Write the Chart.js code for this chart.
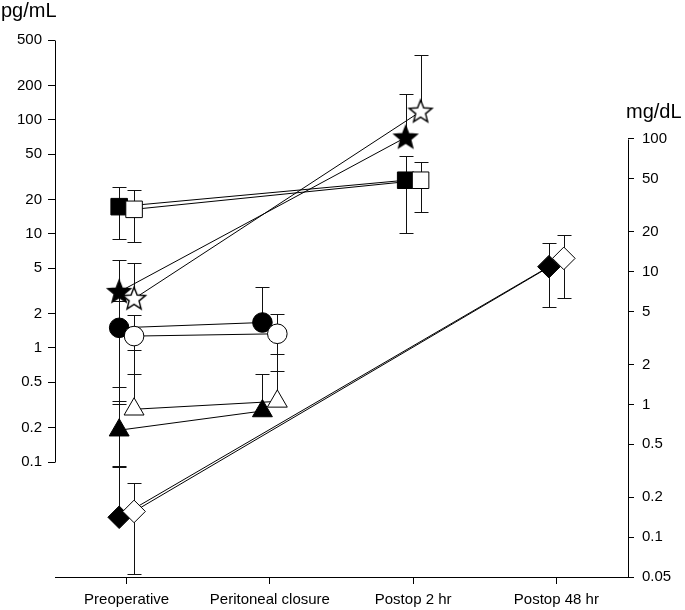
<!DOCTYPE html>
<html>
<head>
<meta charset="utf-8">
<script src="https://cdn.jsdelivr.net/npm/chart.js@4/dist/chart.umd.min.js"></script>
<style>
  body { margin: 0; background: #fff; }
  #wrap { width: 685px; height: 610px; }
</style>
</head>
<body>
<div id="wrap"><canvas id="chart" width="685" height="610"></canvas></div>
<script>
const categories = ['Preoperative', 'Peritoneal closure', 'Postop 2 hr', 'Postop 48 hr'];
const leftTicks = [0.1, 0.2, 0.5, 1, 2, 5, 10, 20, 50, 100, 200, 500];
const rightTicks = [0.05, 0.1, 0.2, 0.5, 1, 2, 5, 10, 20, 50, 100];

// pg/mL (left axis) -- null where the group has no value
const squareFilled   = [17.3, null, 29.5, null];
const squareFilledHi = [25.6, null, 48.4, null];
const squareFilledLo = [9.1, null, 10.2, null];
const squareOpen     = [16.4, null, 29.5, null];
const squareOpenHi   = [24.4, null, 42.9, null];
const squareOpenLo   = [8.4, null, 15.6, null];

const starFilled   = [3.1, null, 70, null];
const starFilledHi = [5.9, null, 169, null];
const starFilledLo = [0.32, null, null, null];
const starOpen     = [2.7, null, 118, null];
const starOpenHi   = [5.5, null, 370, null];
const starOpenLo   = [null, null, null, null];

const circleFilled   = [1.5, 1.67, null, null];
const circleFilledHi = [2.6, 3.4, null, null];
const circleFilledLo = [0.455, null, null, null];
const circleOpen     = [1.27, 1.33, null, null];
const circleOpenHi   = [1.95, 2.0, null, null];
const circleOpenLo   = [0.59, 0.63, null, null];

const triFilled   = [0.19, 0.28, null, null];
const triFilledHi = [0.34, 0.59, null, null];
const triFilledLo = [0.09, null, null, null];
const triOpen     = [0.29, 0.34, null, null];
const triOpenHi   = [0.96, 0.885, null, null];
const triOpenLo   = [null, null, null, null];

// mg/dL (right axis)
const diamondFilled   = [0.141, null, null, 10.9];
const diamondFilledHi = [0.345, null, null, 16.5];
const diamondFilledLo = [null, null, null, 5.45];
const diamondOpen     = [0.156, null, null, 12.6];
const diamondOpenHi   = [0.254, null, null, 18.9];
const diamondOpenLo   = [0.053, null, null, 6.35];

const SHIFT = 0.052;
Chart.defaults.font.family = '"Liberation Sans", Arial, sans-serif';
Chart.defaults.font.size = 15;
Chart.defaults.color = '#000';

function makeStar(fill) {
  const c = document.createElement('canvas');
  c.width = 28; c.height = 28;
  const g = c.getContext('2d');
  const R = 12, r = 5.2;
  g.beginPath();
  for (let k = 0; k < 10; k++) {
    const a = -Math.PI / 2 + k * Math.PI / 5;
    const rad = k % 2 ? r : R;
    g.lineTo(14 + rad * Math.cos(a), 14.5 + rad * Math.sin(a));
  }
  g.closePath();
  g.fillStyle = fill;
  g.fill();
  g.strokeStyle = '#000';
  g.lineWidth = 1.4;
  g.stroke();
  return c;
}

const radius = { rect: 11.7, circle: 9.8, triangle: 11.5, rectRot: 11.3 };

function series(vals, hi, lo, shape, filled, axis) {
  const pts = categories.map((c, i) => ({
    x: i + (filled ? -SHIFT : SHIFT), y: vals[i], hi: hi[i], lo: lo[i]
  })).filter(p => p.y != null);
  const star = shape === 'star';
  return {
    data: pts,
    yAxisID: axis,
    borderColor: '#000',
    borderWidth: 1,
    pointStyle: star ? makeStar(filled ? '#000' : '#fff') : shape,
    pointRadius: star ? 12 : radius[shape],
    pointBackgroundColor: filled ? '#000' : '#fff',
    pointBorderColor: '#000',
    pointBorderWidth: 1,
    tension: 0,
    order: filled ? 2 : 1
  };
}

// error bars are drawn under the markers
const errorBars = {
  id: 'errorBars',
  beforeDatasetsDraw(chart) {
    const ctx = chart.ctx;
    ctx.save();
    ctx.strokeStyle = '#111';
    ctx.lineWidth = 1;
    chart.data.datasets.forEach((ds, di) => {
      const meta = chart.getDatasetMeta(di);
      const sc = chart.scales[ds.yAxisID];
      meta.data.forEach((el, j) => {
        const p = ds.data[j];
        const x = Math.round(el.x) + 0.5;
        const top = p.hi != null ? Math.round(sc.getPixelForValue(p.hi)) + 0.5 : el.y;
        const bot = p.lo != null ? Math.round(sc.getPixelForValue(p.lo)) + 0.5 : el.y;
        ctx.beginPath();
        ctx.moveTo(x, top);
        ctx.lineTo(x, bot);
        if (p.hi != null) { ctx.moveTo(x - 7, top); ctx.lineTo(x + 7, top); }
        if (p.lo != null) { ctx.moveTo(x - 7, bot); ctx.lineTo(x + 7, bot); }
        ctx.stroke();
      });
    });
    ctx.restore();
  }
};

// partial axis lines and unit titles
const axisDecor = {
  id: 'axisDecor',
  afterDraw(chart) {
    const { ctx, chartArea, scales } = chart;
    const yl = scales.yLeft, yr = scales.yRight;
    ctx.save();
    ctx.strokeStyle = '#000';
    ctx.lineWidth = 1;
    const xl = Math.round(chartArea.left - 0.5) + 0.5;
    const xr = Math.round(chartArea.right - 0.5) + 0.5;
    ctx.beginPath();
    ctx.moveTo(xl, Math.round(yl.getPixelForValue(leftTicks[leftTicks.length - 1])) + 0.5);
    ctx.lineTo(xl, Math.round(yl.getPixelForValue(leftTicks[0])) + 0.5);
    ctx.moveTo(xr, Math.round(yr.getPixelForValue(rightTicks[rightTicks.length - 1])) + 0.5);
    ctx.lineTo(xr, chartArea.bottom);
    ctx.stroke();
    ctx.fillStyle = '#000';
    ctx.font = '20px "Liberation Sans", Arial, sans-serif';
    ctx.textBaseline = 'alphabetic';
    ctx.fillText('pg/mL', 1, 17);
    ctx.fillText('mg/dL', 626, 118);
    ctx.restore();
  }
};

const datasets = [
  series(squareFilled, squareFilledHi, squareFilledLo, 'rect', true, 'yLeft'),
  series(squareOpen, squareOpenHi, squareOpenLo, 'rect', false, 'yLeft'),
  series(starFilled, starFilledHi, starFilledLo, 'star', true, 'yLeft'),
  series(starOpen, starOpenHi, starOpenLo, 'star', false, 'yLeft'),
  series(circleFilled, circleFilledHi, circleFilledLo, 'circle', true, 'yLeft'),
  series(circleOpen, circleOpenHi, circleOpenLo, 'circle', false, 'yLeft'),
  series(triFilled, triFilledHi, triFilledLo, 'triangle', true, 'yLeft'),
  series(triOpen, triOpenHi, triOpenLo, 'triangle', false, 'yLeft'),
  series(diamondFilled, diamondFilledHi, diamondFilledLo, 'rectRot', true, 'yRight'),
  series(diamondOpen, diamondOpenHi, diamondOpenLo, 'rectRot', false, 'yRight')
];

const chart = new Chart(document.getElementById('chart'), {
  type: 'line',
  data: { datasets },
  options: {
    responsive: false,
    animation: false,
    layout: { padding: { top: 40 } },
    plugins: { legend: { display: false }, tooltip: { enabled: false } },
    scales: {
      x: {
        type: 'linear',
        min: -0.5,
        max: 3.5,
        bounds: 'data',
        afterBuildTicks: s => { s.ticks = categories.map((c, i) => ({ value: i })); },
        afterFit: s => { s.height = 33; },
        ticks: { callback: v => categories[v], autoSkip: false, maxRotation: 0, padding: 7 },
        grid: { drawOnChartArea: false, tickLength: 7, color: '#000' },
        border: { color: '#000', width: 1 }
      },
      yLeft: {
        type: 'logarithmic',
        position: 'left',
        min: 0.00982,
        max: 500,
        bounds: 'data',
        afterBuildTicks: s => { s.ticks = leftTicks.map(v => ({ value: v })); },
        afterFit: s => { s.width = 55; },
        ticks: { callback: v => String(v), autoSkip: false, padding: 6 },
        grid: { drawOnChartArea: false, tickLength: 7, color: '#000' },
        border: { display: false }
      },
      yRight: {
        type: 'logarithmic',
        position: 'right',
        min: 0.05,
        max: 557,
        bounds: 'data',
        afterBuildTicks: s => { s.ticks = rightTicks.map(v => ({ value: v })); },
        afterFit: s => { s.width = 57; },
        ticks: { callback: v => String(v), autoSkip: false, padding: 8 },
        grid: { drawOnChartArea: false, tickLength: 6, color: '#000' },
        border: { display: false }
      }
    }
  },
  plugins: [errorBars, axisDecor]
});
</script>
</body>
</html>
